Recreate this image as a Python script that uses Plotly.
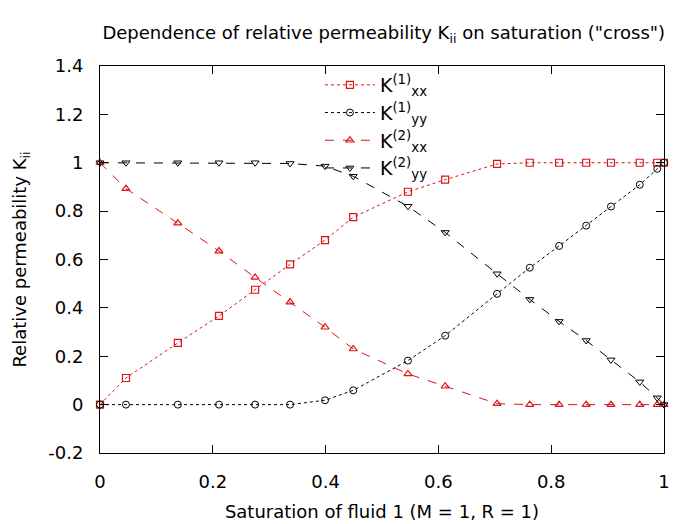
import plotly.graph_objects as go

# Saturation of fluid 1 (sample points)
sat = [0, 0.046, 0.138, 0.211, 0.275, 0.337, 0.399, 0.449, 0.546, 0.612,
       0.704, 0.762, 0.814, 0.862, 0.906, 0.957, 0.988, 1.0]

k1xx = [0, 0.11, 0.255, 0.367, 0.475, 0.58, 0.68, 0.775, 0.88, 0.93,
        0.995, 1.0, 1.0, 1.0, 1.0, 1.0, 1.0, 1.0]
k1yy = [0, 0, 0, 0, 0, 0, 0.018, 0.059, 0.182, 0.285,
        0.458, 0.566, 0.656, 0.74, 0.819, 0.909, 0.975, 1.0]
k2xx = [1.0, 0.893, 0.75, 0.635, 0.526, 0.424, 0.32, 0.23, 0.127, 0.076,
        0.004, 0, 0, 0, 0, 0, 0, 0]
k2yy = [1.0, 1.0, 1.0, 1.0, 1.0, 0.997, 0.986, 0.944, 0.82, 0.712,
        0.541, 0.435, 0.344, 0.265, 0.185, 0.094, 0.028, 0]

y_ticks = [-0.2, 0, 0.2, 0.4, 0.6, 0.8, 1, 1.2, 1.4]
y_tick_text = ["-0.2", "0", "0.2", "0.4", "0.6", "0.8", "1", "1.2", "1.4"]
x_ticks = [0, 0.2, 0.4, 0.6, 0.8, 1]
x_tick_text = ["0", "0.2", "0.4", "0.6", "0.8", "1"]

red = '#dc1414'
font = 'DejaVu Sans'

fig = go.Figure()

fig.add_trace(go.Scatter(
    x=sat, y=k1xx, mode='lines+markers', name='K<sup>(1)</sup><sub>xx</sub>',
    line=dict(color=red, width=1, dash='dot'),
    marker=dict(symbol='square-open', size=7, color=red, line=dict(width=1.2)),
    cliponaxis=False
))
fig.add_trace(go.Scatter(
    x=sat, y=k1yy, mode='lines+markers', name='K<sup>(1)</sup><sub>yy</sub>',
    line=dict(color='black', width=1, dash='dot'),
    marker=dict(symbol='circle-open', size=7, color='black', line=dict(width=1)),
    cliponaxis=False
))
fig.add_trace(go.Scatter(
    x=sat, y=k2xx, mode='lines+markers', name='K<sup>(2)</sup><sub>xx</sub>',
    line=dict(color=red, width=1, dash='dash'),
    marker=dict(symbol='triangle-up-open', size=7, color=red, line=dict(width=1.2)),
    cliponaxis=False
))
fig.add_trace(go.Scatter(
    x=sat, y=k2yy, mode='lines+markers', name='K<sup>(2)</sup><sub>yy</sub>',
    line=dict(color='black', width=1, dash='dash'),
    marker=dict(symbol='triangle-down-open', size=7, color='black', line=dict(width=1)),
    cliponaxis=False
))

fig.update_layout(
    width=692, height=516,
    margin=dict(l=92, r=36, t=58, b=71),
    plot_bgcolor='white', paper_bgcolor='white',
    font=dict(family=font, size=18, color='black'),
    title=dict(text='Dependence of relative permeability K<sub>ii</sub> on saturation ("cross")',
               x=0.543, xanchor='center', y=0.952, yanchor='middle',
               font=dict(size=18)),
    legend=dict(x=0.39, y=1.0, xanchor='left', yanchor='top',
                bgcolor='rgba(0,0,0,0)', font=dict(size=19),
                tracegroupgap=0, itemwidth=50),
    showlegend=True,
)

fig.update_xaxes(
    range=[0, 1], tickvals=x_ticks, ticktext=x_tick_text, automargin=False,
    showgrid=False, zeroline=False, showline=True, linecolor='black', linewidth=1,
    mirror='ticks', ticks='inside', ticklen=8, tickcolor='black', ticklabelstandoff=12,
    tickfont=dict(size=18),
    title=dict(text='Saturation of fluid 1 (M = 1, R = 1)', font=dict(size=18), standoff=14),
)
fig.update_yaxes(
    range=[-0.2, 1.4], tickvals=y_ticks, ticktext=y_tick_text, automargin=False,
    showgrid=False, zeroline=False, showline=True, linecolor='black', linewidth=1,
    mirror='ticks', ticks='inside', ticklen=8, tickcolor='black', ticklabelstandoff=12,
    tickfont=dict(size=18),
    title=dict(text='Relative permeability K<sub>ii</sub>', font=dict(size=18), standoff=16),
)

fig.write_html("out.html")
